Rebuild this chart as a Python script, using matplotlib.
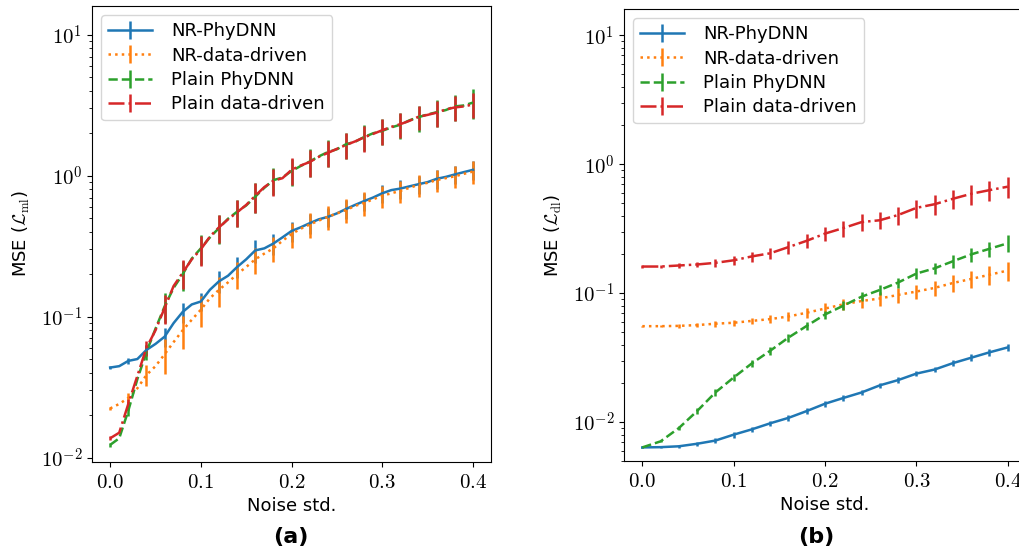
import matplotlib
matplotlib.use('Agg')
import matplotlib.pyplot as plt
import matplotlib.ticker as mticker
import numpy as np

plt.rcParams['font.family'] = 'DejaVu Sans'
plt.rcParams['mathtext.fontset'] = 'cm'

labels = ['NR-PhyDNN', 'NR-data-driven', 'Plain PhyDNN', 'Plain data-driven']
colors = ['tab:blue', 'tab:orange', 'tab:green', 'tab:red']
styles = ['-', ':', '--', '-.']
xticks = [0.0, 0.1, 0.2, 0.3, 0.4]

# panel (a): noise std 0.00 .. 0.40, step 0.01, error bars every 0.02
noise_a = np.round(np.arange(0, 0.401, 0.01), 2)
ml_nr_phydnn = [0.0435, 0.0445, 0.0485, 0.050, 0.058, 0.064, 0.072, 0.090, 0.108, 0.122,
                0.128, 0.155, 0.178, 0.195, 0.225, 0.255, 0.295, 0.305, 0.330, 0.365,
                0.405, 0.43, 0.46, 0.49, 0.51, 0.54, 0.58, 0.62, 0.66, 0.70,
                0.75, 0.79, 0.81, 0.84, 0.87, 0.90, 0.95, 0.98, 1.02, 1.06, 1.10]
ml_nr_data = [0.0223, 0.0240, 0.0265, 0.0310, 0.0385, 0.0445, 0.0540, 0.066, 0.080, 0.095,
              0.112, 0.135, 0.155, 0.175, 0.200, 0.225, 0.255, 0.28, 0.305, 0.345,
              0.385, 0.42, 0.45, 0.48, 0.51, 0.54, 0.57, 0.61, 0.64, 0.68,
              0.72, 0.75, 0.78, 0.82, 0.86, 0.89, 0.93, 0.96, 0.99, 1.03, 1.07]
ml_plain_phydnn = [0.0123, 0.0137, 0.0215, 0.036, 0.056, 0.082, 0.118, 0.160, 0.200, 0.258,
                   0.305, 0.365, 0.425, 0.495, 0.555, 0.615, 0.710, 0.820, 0.930, 0.970,
                   1.08, 1.17, 1.26, 1.37, 1.47, 1.54, 1.67, 1.74, 1.88, 2.00,
                   2.08, 2.20, 2.30, 2.47, 2.60, 2.72, 2.82, 2.92, 3.10, 3.15, 3.30]
ml_plain_data = [0.0137, 0.0150, 0.0240, 0.038, 0.060, 0.080, 0.115, 0.165, 0.205, 0.255,
                 0.300, 0.370, 0.430, 0.490, 0.550, 0.620, 0.720, 0.830, 0.920, 0.960,
                 1.10, 1.18, 1.25, 1.36, 1.45, 1.55, 1.65, 1.75, 1.87, 1.98,
                 2.10, 2.22, 2.32, 2.45, 2.62, 2.70, 2.80, 2.95, 3.05, 3.10, 3.20]
# relative error (std / mean) at every 0.02
ml_rel_err = [
    [0.02, 0.05, 0.08, 0.15, 0.16, 0.15, 0.18, 0.17, 0.18, 0.17, 0.16,
     0.16, 0.15, 0.15, 0.15, 0.15, 0.15, 0.15, 0.15, 0.15, 0.15],
    [0.03, 0.08, 0.17, 0.28, 0.26, 0.25, 0.24, 0.22, 0.21, 0.20, 0.20,
     0.20, 0.19, 0.19, 0.19, 0.18, 0.18, 0.18, 0.18, 0.18, 0.18],
    [0.03, 0.08, 0.12, 0.24, 0.24, 0.24, 0.23, 0.22, 0.24, 0.22, 0.22,
     0.22, 0.21, 0.21, 0.21, 0.21, 0.21, 0.21, 0.22, 0.21, 0.24],
    [0.03, 0.08, 0.12, 0.23, 0.23, 0.24, 0.23, 0.22, 0.24, 0.22, 0.22,
     0.22, 0.21, 0.21, 0.21, 0.21, 0.20, 0.20, 0.21, 0.20, 0.20],
]

# panel (b): noise std 0.00 .. 0.40, step 0.02
noise_b = np.round(np.arange(0, 0.401, 0.02), 2)
dl_nr_phydnn = [0.00637, 0.00640, 0.0065, 0.0068, 0.0072, 0.0080, 0.0088, 0.0098, 0.0108, 0.0122,
                0.0139, 0.0154, 0.0170, 0.0193, 0.0212, 0.0238, 0.0256, 0.0287, 0.0316, 0.0348, 0.0380]
dl_nr_data = [0.0555, 0.0555, 0.0558, 0.0566, 0.0580, 0.0590, 0.0610, 0.0630, 0.0660, 0.0706,
              0.0760, 0.0820, 0.0870, 0.0910, 0.0970, 0.1030, 0.1100, 0.1200, 0.1290, 0.1390, 0.1500]
dl_plain_phydnn = [0.00637, 0.0071, 0.0090, 0.0122, 0.0170, 0.0222, 0.0286, 0.0358, 0.0453, 0.0558,
                   0.0684, 0.080, 0.094, 0.106, 0.121, 0.142, 0.156, 0.177, 0.200, 0.221, 0.244]
dl_plain_data = [0.161, 0.161, 0.164, 0.167, 0.172, 0.180, 0.193, 0.204, 0.228, 0.255,
                 0.290, 0.320, 0.356, 0.368, 0.404, 0.459, 0.490, 0.540, 0.590, 0.630, 0.670]
dl_rel_err = [
    [0.01, 0.02, 0.03, 0.04, 0.04, 0.05, 0.05, 0.05, 0.05, 0.05, 0.05,
     0.05, 0.05, 0.05, 0.05, 0.05, 0.05, 0.05, 0.06, 0.06, 0.07],
    [0.01, 0.02, 0.03, 0.04, 0.05, 0.05, 0.06, 0.07, 0.08, 0.09, 0.10,
     0.10, 0.11, 0.12, 0.13, 0.13, 0.14, 0.15, 0.15, 0.16, 0.17],
    [0.01, 0.02, 0.04, 0.05, 0.06, 0.06, 0.07, 0.07, 0.07, 0.07, 0.07,
     0.08, 0.08, 0.09, 0.09, 0.10, 0.10, 0.11, 0.12, 0.13, 0.15],
    [0.02, 0.03, 0.04, 0.05, 0.07, 0.08, 0.09, 0.10, 0.11, 0.12, 0.13,
     0.14, 0.15, 0.15, 0.16, 0.16, 0.17, 0.17, 0.18, 0.18, 0.18],
]

fig = plt.figure(figsize=(10.19, 5.54), dpi=100)
ax1 = fig.add_axes([0.0903, 0.1661, 0.3916, 0.8231])
ax2 = fig.add_axes([0.6124, 0.1679, 0.3945, 0.8159])

series_a = [ml_nr_phydnn, ml_nr_data, ml_plain_phydnn, ml_plain_data]
for i, ys in enumerate(series_a):
    ys = np.array(ys)
    err = np.zeros(len(ys))
    err[::2] = np.array(ml_rel_err[i]) * ys[::2]
    ax1.errorbar(noise_a, ys, yerr=err, errorevery=2, color=colors[i], ls=styles[i],
                 lw=1.8, elinewidth=1.8, label=labels[i])

series_b = [dl_nr_phydnn, dl_nr_data, dl_plain_phydnn, dl_plain_data]
for i, ys in enumerate(series_b):
    ys = np.array(ys)
    err = np.array(dl_rel_err[i]) * ys
    ax2.errorbar(noise_b, ys, yerr=err, color=colors[i], ls=styles[i],
                 lw=1.8, elinewidth=1.8, label=labels[i])


def log_fmt(v, pos):
    return r'$10^{%d}$' % int(round(np.log10(v)))


for ax, ylab, ylim in [(ax1, r'MSE ($\mathcal{L}_{\mathrm{ml}}$)', (0.0093, 16)),
                       (ax2, r'MSE ($\mathcal{L}_{\mathrm{dl}}$)', (0.005, 16))]:
    ax.set_yscale('log')
    ax.set_ylim(*ylim)
    ax.yaxis.set_major_locator(mticker.LogLocator(base=10, numticks=10))
    ax.yaxis.set_major_formatter(mticker.FuncFormatter(log_fmt))
    ax.yaxis.set_minor_formatter(mticker.NullFormatter())
    ax.set_xlim(-0.02, 0.42)
    ax.set_xticks(xticks)
    ax.set_xticklabels([r'$%.1f$' % t for t in xticks])
    ax.tick_params(labelsize=15)
    ax.set_xlabel('Noise std.', fontsize=13)
    ax.set_ylabel(ylab, fontsize=13, labelpad=6)
    ax.legend(loc='upper left', fontsize=13, labelspacing=0.35,
              handlelength=2.4, handletextpad=1.1)

fig.text(291 / 1019, 1 - 537 / 554, '(a)', ha='center', va='center', fontsize=16, fontweight='bold')
fig.text(816 / 1019, 1 - 537 / 554, '(b)', ha='center', va='center', fontsize=16, fontweight='bold')

fig.savefig('out.png', dpi=100)
